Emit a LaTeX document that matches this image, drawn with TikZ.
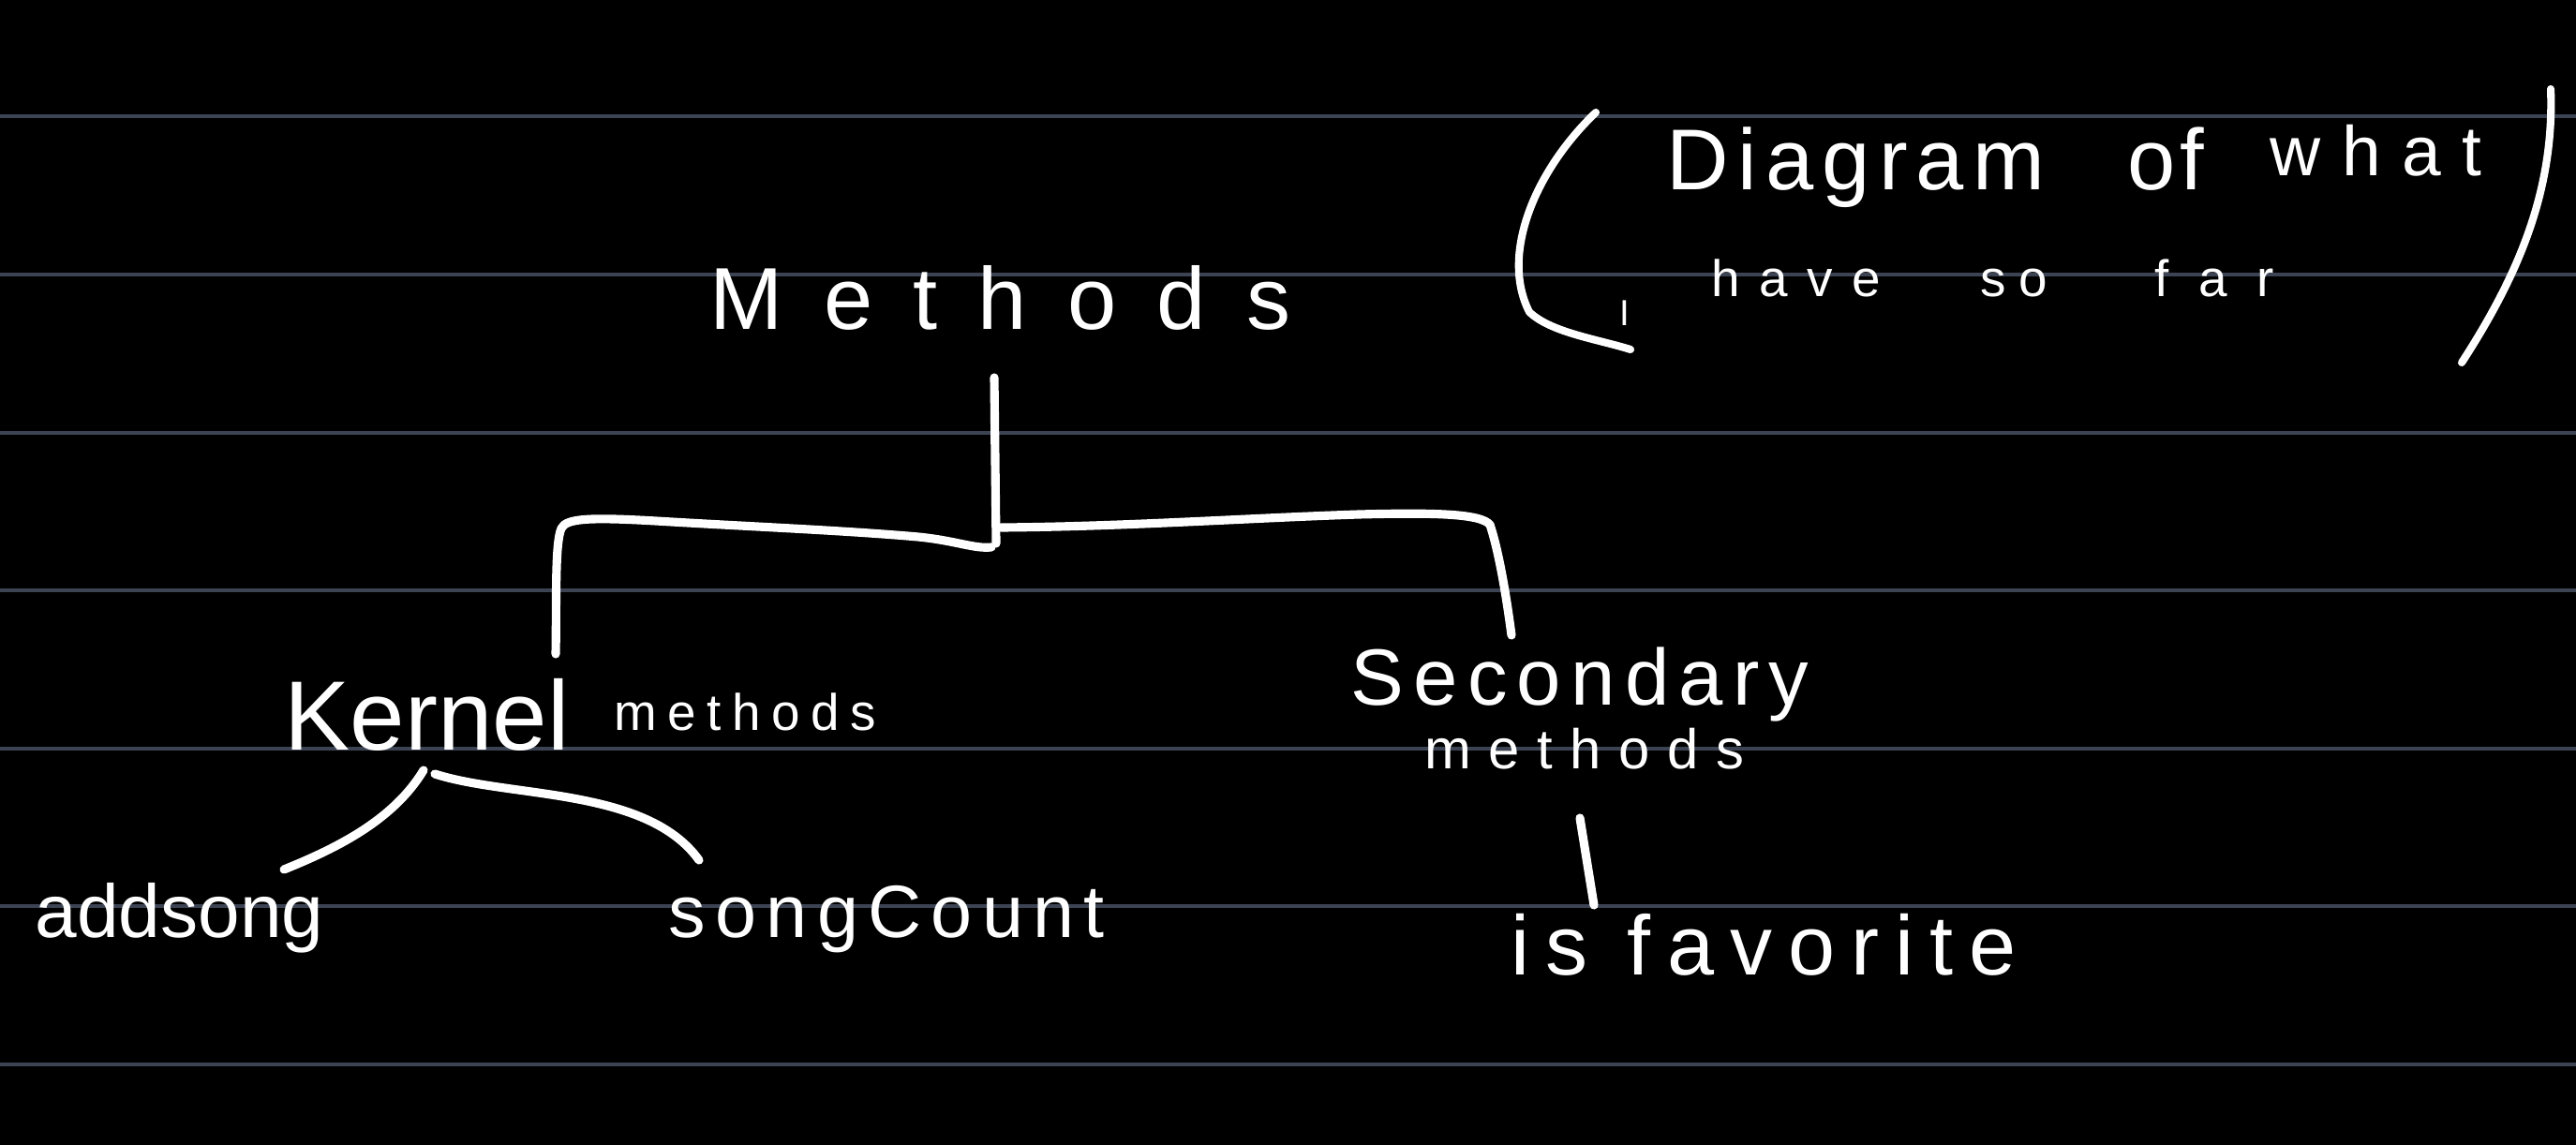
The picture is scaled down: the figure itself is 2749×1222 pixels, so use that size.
\documentclass[tikz,border=0pt]{standalone}
\usepackage{fontspec}
\setmainfont{Liberation Sans}
\definecolor{rulecol}{RGB}{60,68,84}
\newcommand\hw[2]{\fontsize{#1}{#1}\selectfont\addfontfeature{LetterSpace=#2}}
\begin{document}
\begin{tikzpicture}[x=0.01cm,y=-0.01cm,
  hand/.style={white,line width=2.6pt,line cap=round,line join=round},
  txt/.style={text=white,inner sep=0pt,anchor=base west}]
\fill[black] (0,0) rectangle (2749,1222);
\useasboundingbox (0,0) rectangle (2749,1222);
\foreach \yy in {124,293,462,630,799,967,1136}
  \draw[rulecol,line width=0.9pt] (0,\yy) -- (2749,\yy);

% texts
\node[txt,font=\hw{26.7pt}{46}] (methods) at (757,352) {Methods};
\node[txt,font=\hw{29.9pt}{0}] (kernel) at (303,800) {Kernel};
\node[txt,font=\hw{15.6pt}{21}] (kmeth) at (655,779) {methods};
\node[txt,font=\hw{24.2pt}{12}] (second) at (1441,752) {Secondary};
\node[txt,font=\hw{17pt}{31}] (smeth) at (1520,820) {methods};
\node[txt,font=\hw{22.8pt}{0}] (addsong) at (37,1000) {addsong};
\node[txt,font=\hw{22.5pt}{13}] (songcount) at (713,1000) {songCount};
\node[txt,font=\hw{25.6pt}{19}] (fav) at (1612,1040) {is favorite};
\node[txt,font=\hw{26.2pt}{10}] (diag) at (1778,203) {Diagram};
\node[txt,font=\hw{26.2pt}{5}] (of) at (2270,203) {of};
\node[txt,font=\hw{21.3pt}{30}] (what) at (2422,188) {what};
\node[txt,font=\hw{11pt}{0}] (I) at (1728,348) {I};
\node[txt,font=\hw{15.6pt}{37}] (have) at (1826,317) {have};
\node[txt,font=\hw{15.6pt}{25}] (so) at (2113,317) {so};
\node[txt,font=\hw{15.6pt}{57}] (far) at (2299,317) {far};

% junction coordinates
\coordinate (mtop) at (1061,403);
\coordinate (mjoin) at (1063,580);
\coordinate (kend) at (593,698);
\coordinate (send) at (1613,678);
\coordinate (kfork) at (452,822);
\coordinate (kfork2) at (464,826);
\coordinate (aend) at (303,928);
\coordinate (cend) at (746,918);
\coordinate (stop) at (1686,873);
\coordinate (sbot) at (1701,966);

% tree connectors
\draw[hand] (mtop) -- (mjoin);
\draw[hand] (kend) .. controls (594,640) and (592,580) .. (599,564)
  .. controls (604,553) and (630,552) .. (700,556)
  .. controls (800,562) and (900,566) .. (980,573)
  .. controls (1020,577) and (1040,586) .. (1058,584);
\draw[hand] (1068,563) .. controls (1200,562) and (1330,553) .. (1450,549)
  .. controls (1530,547) and (1580,548) .. (1590,560)
  .. controls (1600,590) and (1608,640) .. (send);
\draw[hand] (kfork) .. controls (420,875) and (360,905) .. (aend);
\draw[hand] (kfork2) .. controls (545,852) and (690,840) .. (cend);
\draw[hand] (stop) -- (sbot);

% parentheses
\draw[hand,line width=2.3pt] (1703,120) .. controls (1640,180) and (1600,270) .. (1632,333)
  .. controls (1655,355) and (1705,362) .. (1740,373);
\draw[hand,line width=2.3pt] (2722,95) .. controls (2726,200) and (2690,290) .. (2627,387);
\end{tikzpicture}
\end{document}
